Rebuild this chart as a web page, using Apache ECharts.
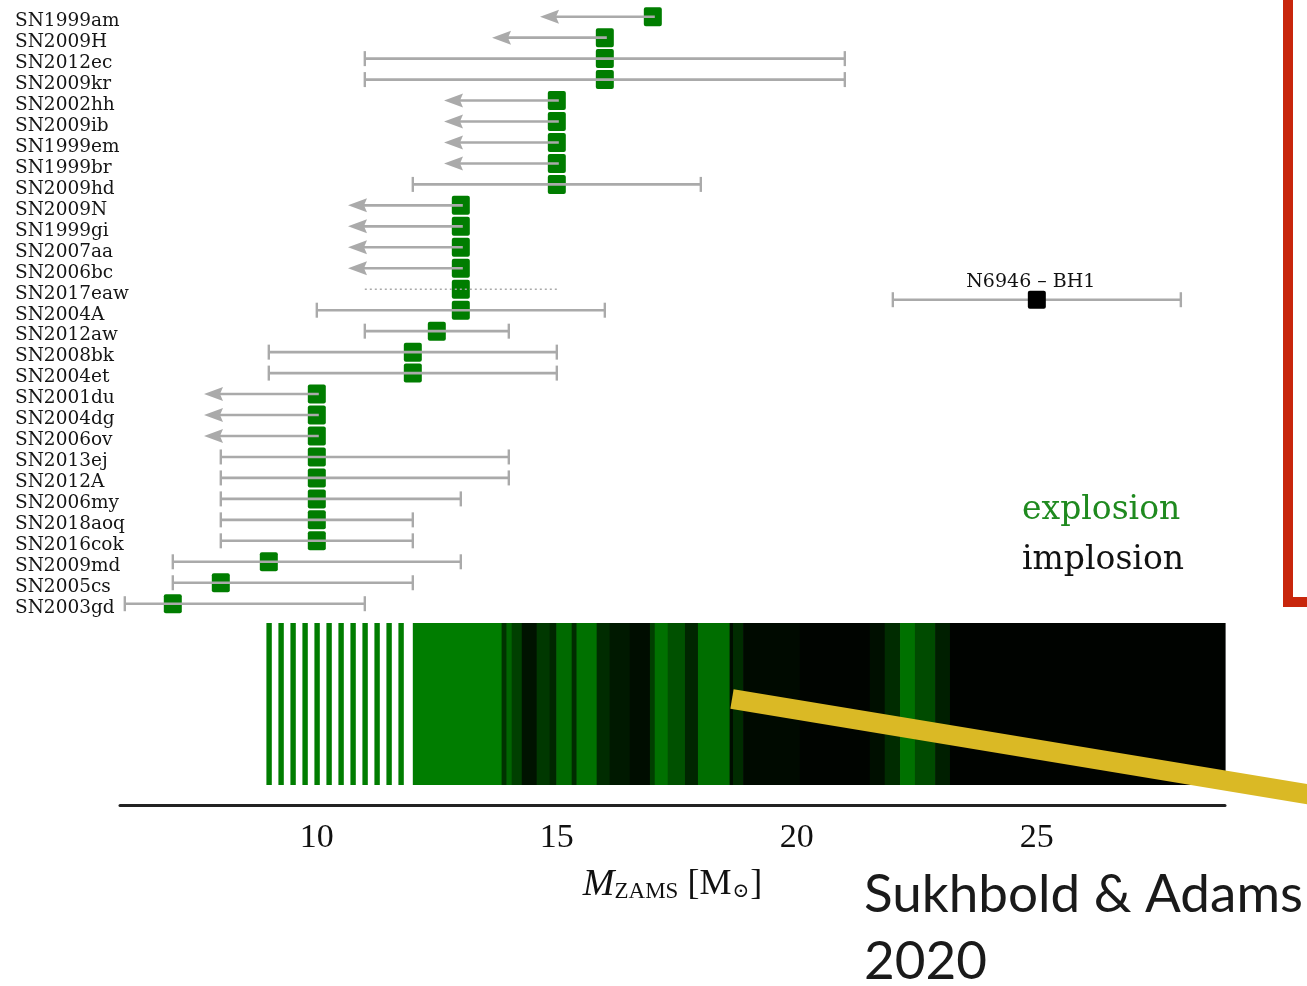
<!DOCTYPE html>
<html>
<head>
<meta charset="utf-8">
<script src="https://cdn.jsdelivr.net/npm/echarts@6/dist/echarts.min.js"></script>
<style>
  html, body { margin: 0; padding: 0; background: #ffffff; }
  #chart { width: 1307px; height: 986px; }
</style>
</head>
<body>
<div id="chart"></div>
<script>
// Type II-P supernova progenitors: inferred ZAMS masses (top to bottom)
const supernovae = [
  'SN1999am', 'SN2009H', 'SN2012ec', 'SN2009kr', 'SN2002hh', 'SN2009ib',
  'SN1999em', 'SN1999br', 'SN2009hd', 'SN2009N', 'SN1999gi', 'SN2007aa',
  'SN2006bc', 'SN2017eaw', 'SN2004A', 'SN2012aw', 'SN2008bk', 'SN2004et',
  'SN2001du', 'SN2004dg', 'SN2006ov', 'SN2013ej', 'SN2012A', 'SN2006my',
  'SN2018aoq', 'SN2016cok', 'SN2009md', 'SN2005cs', 'SN2003gd'
];
const progenitorMass = [17, 16, 16, 16, 15, 15, 15, 15, 15, 13, 13, 13, 13, 13, 13, 12.5, 12, 12,
                        10, 10, 10, 10, 10, 10, 10, 10, 9, 8, 7];
const massLow  = [null, null, 11, 11, null, null, null, null, 12, null, null, null, null, 11, 10, 11, 9, 9,
                  null, null, null, 8, 8, 8, 8, 8, 7, 7, 6];
const massHigh = [null, null, 21, 21, null, null, null, null, 18, null, null, null, null, 15, 16, 14, 15, 15,
                  null, null, null, 14, 14, 13, 12, 12, 13, 12, 11];
// 'limit' = upper limit only, 'bar' = error range, 'dotted' = loose range
const rangeKind = ['limit', 'limit', 'bar', 'bar', 'limit', 'limit', 'limit', 'limit', 'bar',
                   'limit', 'limit', 'limit', 'limit', 'dotted', 'bar', 'bar', 'bar', 'bar',
                   'limit', 'limit', 'limit', 'bar', 'bar', 'bar', 'bar', 'bar', 'bar', 'bar', 'bar'];

// Failed-supernova candidate in NGC 6946
const bhName = 'N6946 \u2013 BH1';
const bhMass = 25;
const bhLow = 22;
const bhHigh = 28;
const bhRow = 13.5;

// Explosion outcome of the model grid: isolated low-mass models (all explode)
const stripeMass = [9.0, 9.25, 9.5, 9.75, 10.0, 10.25, 10.5, 10.75, 11.0, 11.25, 11.5, 11.75];
// Dense grid from 12 Msun up, summarised as bands with the fraction of exploding models
const bandStart = [12.00, 13.85, 13.95, 14.06, 14.27, 14.58, 14.85, 14.99, 15.31, 15.41, 15.83, 16.10,
                   16.52, 16.94, 17.04, 17.31, 17.67, 17.94, 18.60, 18.67, 18.88, 20.06, 21.52, 21.83,
                   22.15, 22.46, 22.88, 23.19];
const bandEnd   = [13.85, 13.95, 14.06, 14.27, 14.58, 14.85, 14.99, 15.31, 15.41, 15.83, 16.10, 16.52,
                   16.94, 17.04, 17.31, 17.67, 17.94, 18.60, 18.67, 18.88, 20.06, 21.52, 21.83, 22.15,
                   22.46, 22.88, 23.19, 28.92];
const bandExplode = [1.0, 0.4, 0.8, 0.5, 0.15, 0.45, 0.3, 0.85, 0.35, 0.9, 0.35, 0.2,
                     0.1, 0.5, 0.9, 0.65, 0.3, 0.88, 0.1, 0.35, 0.08, 0.03, 0.12, 0.35,
                     0.9, 0.6, 0.25, 0.02];

const xTicks = [10, 15, 20, 25];

// ---- styling constants ----
const GREEN = '#007d00';
const GREY = '#aaaaaa';
const ARROW_LEN = 2.35;      // length of upper-limit arrows, in Msun
const STRIPE_WIDTH = 0.1;    // width of isolated model stripes, in Msun
const STRIP_FLOOR = 0.11;    // lower edge of the outcome strip in its own axis units
const SERIF = '"DejaVu Serif", serif';
const TIMES = '"Liberation Serif", serif';

function mixColor(f) {
  const g = Math.round(125 * f);
  return 'rgb(0,' + g + ',0)';
}

const rowIdx = supernovae.map((_, i) => i);

const boxData = progenitorMass.map((m, i) => [m, i]);
const rangeData = [];
const limitData = [];
progenitorMass.forEach((m, i) => {
  if (rangeKind[i] === 'limit') limitData.push([m, i]);
  else rangeData.push([massLow[i], massHigh[i], i, rangeKind[i] === 'dotted' ? 1 : 0]);
});

const stripData = stripeMass.map(m => [m - STRIPE_WIDTH / 2, m + STRIPE_WIDTH / 2, 1]);
bandStart.forEach((s, i) => stripData.push([s, bandEnd[i], bandExplode[i]]));

const chart = echarts.init(document.getElementById('chart'), null, { renderer: 'canvas' });

const option = {
  backgroundColor: '#ffffff',
  animation: false,
  grid: [
    { left: 120, width: 1105, top: 6.2, height: 608 },
    { left: 120, width: 1105, top: 623, height: 182 }
  ],
  xAxis: [
    { gridIndex: 0, type: 'value', min: 5.9, max: 28.92, show: false },
    {
      gridIndex: 1, type: 'value', min: 5.9, max: 28.92,
      axisLine: { show: true, lineStyle: { color: '#222', width: 3 } },
      axisTick: { show: false },
      splitLine: { show: false },
      axisLabel: {
        customValues: xTicks,
        margin: 16,
        color: '#111',
        fontFamily: TIMES,
        fontSize: 34
      },
      name: '{m|M}{s|ZAMS}{r| [M}{o|\u2299}{r|]}',
      nameLocation: 'middle',
      nameGap: 60,
      nameTextStyle: {
        rich: {
          m: { fontFamily: TIMES, fontStyle: 'italic', fontSize: 38, lineHeight: 40, color: '#111' },
          s: { fontFamily: TIMES, fontSize: 23, lineHeight: 22, verticalAlign: 'bottom', color: '#111', padding: [0, 0, 2, 0] },
          o: { fontFamily: SERIF, fontSize: 20, lineHeight: 22, verticalAlign: 'bottom', color: '#111', padding: [0, 1, 3, 1] },
          r: { fontFamily: TIMES, fontSize: 36, lineHeight: 40, color: '#111' }
        }
      }
    }
  ],
  yAxis: [
    {
      gridIndex: 0, type: 'value', inverse: true, min: -0.5, max: 28.5,
      axisLine: { show: false }, axisTick: { show: false }, splitLine: { show: false },
      axisLabel: {
        customValues: rowIdx,
        formatter: v => supernovae[Math.round(v)] || '',
        align: 'left',
        verticalAlign: 'top',
        lineHeight: 9,
        margin: 105,
        color: '#151515',
        fontFamily: SERIF,
        fontSize: 18.5
      }
    },
    { gridIndex: 1, type: 'value', min: 0, max: 1, show: false }
  ],
  series: [
    {
      // explosion / implosion outcome strip
      type: 'custom',
      xAxisIndex: 1, yAxisIndex: 1,
      data: stripData,
      z: 2,
      silent: true,
      renderItem: (params, api) => {
        const a = api.coord([api.value(0), 1]);
        const b = api.coord([api.value(1), STRIP_FLOOR]);
        return {
          type: 'rect',
          shape: { x: a[0], y: a[1], width: b[0] - a[0] + 0.6, height: b[1] - a[1] },
          style: { fill: mixColor(api.value(2)) }
        };
      }
    },
    {
      // progenitor mass estimates
      type: 'custom',
      xAxisIndex: 0, yAxisIndex: 0,
      data: boxData,
      z: 2,
      silent: true,
      renderItem: (params, api) => {
        const p = api.coord([api.value(0), api.value(1)]);
        return {
          type: 'rect',
          shape: { x: p[0] - 9, y: p[1] - 9.5, width: 18, height: 19, r: 2 },
          style: { fill: GREEN }
        };
      }
    },
    {
      // error ranges
      type: 'custom',
      xAxisIndex: 0, yAxisIndex: 0,
      data: rangeData,
      z: 3,
      silent: true,
      renderItem: (params, api) => {
        const a = api.coord([api.value(0), api.value(2)]);
        const b = api.coord([api.value(1), api.value(2)]);
        if (api.value(3) === 1) {
          return {
            type: 'line',
            shape: { x1: a[0], y1: a[1], x2: b[0], y2: b[1] },
            style: { stroke: GREY, lineWidth: 1.5, lineDash: [2, 3] }
          };
        }
        return {
          type: 'group',
          children: [
            { type: 'line', shape: { x1: a[0], y1: a[1], x2: b[0], y2: b[1] }, style: { stroke: GREY, lineWidth: 2.6 } },
            { type: 'line', shape: { x1: a[0], y1: a[1] - 7.5, x2: a[0], y2: a[1] + 7.5 }, style: { stroke: GREY, lineWidth: 2.4 } },
            { type: 'line', shape: { x1: b[0], y1: b[1] - 7.5, x2: b[0], y2: b[1] + 7.5 }, style: { stroke: GREY, lineWidth: 2.4 } }
          ]
        };
      }
    },
    {
      // upper limits
      type: 'custom',
      xAxisIndex: 0, yAxisIndex: 0,
      data: limitData,
      z: 3,
      silent: true,
      renderItem: (params, api) => {
        const p = api.coord([api.value(0), api.value(1)]);
        const t = api.coord([api.value(0) - ARROW_LEN, api.value(1)]);
        const y = p[1];
        return {
          type: 'group',
          children: [
            { type: 'line', shape: { x1: p[0] + 2, y1: y, x2: t[0] + 14, y2: y }, style: { stroke: GREY, lineWidth: 2.6 } },
            { type: 'polygon', shape: { points: [[t[0], y], [t[0] + 19, y - 7], [t[0] + 16, y], [t[0] + 19, y + 7]] }, style: { fill: GREY } }
          ]
        };
      }
    },
    {
      // black-hole candidate
      type: 'custom',
      xAxisIndex: 0, yAxisIndex: 0,
      data: [[bhMass, bhRow, bhLow, bhHigh]],
      z: 4,
      silent: true,
      renderItem: (params, api) => {
        const p = api.coord([api.value(0), api.value(1)]);
        const a = api.coord([api.value(2), api.value(1)]);
        const b = api.coord([api.value(3), api.value(1)]);
        return {
          type: 'group',
          children: [
            { type: 'line', shape: { x1: a[0], y1: a[1], x2: b[0], y2: b[1] }, style: { stroke: GREY, lineWidth: 2.6 } },
            { type: 'line', shape: { x1: a[0], y1: a[1] - 7.5, x2: a[0], y2: a[1] + 7.5 }, style: { stroke: GREY, lineWidth: 2.4 } },
            { type: 'line', shape: { x1: b[0], y1: b[1] - 7.5, x2: b[0], y2: b[1] + 7.5 }, style: { stroke: GREY, lineWidth: 2.4 } },
            { type: 'rect', shape: { x: p[0] - 9, y: p[1] - 9, width: 18, height: 18, r: 2 }, style: { fill: '#000' } },
            {
              type: 'text', x: p[0] - 6, y: p[1] - 18,
              style: { text: bhName, fill: '#111', fontFamily: SERIF, fontSize: 19, align: 'center', verticalAlign: 'middle' }
            }
          ]
        };
      }
    }
  ],
  graphic: [
    { type: 'text', left: 1022, top: 494, style: { text: 'explosion', fill: '#1f8a1f', fontFamily: SERIF, fontSize: 33 } },
    { type: 'text', left: 1022, top: 544, style: { text: 'implosion', fill: '#111', fontFamily: SERIF, fontSize: 33 } },
    { type: 'rect', shape: { x: 1283, y: 0, width: 10, height: 607 }, style: { fill: '#c8260c' }, z: 10 },
    { type: 'rect', shape: { x: 1283, y: 597, width: 24, height: 10 }, style: { fill: '#c8260c' }, z: 10 },
    { type: 'line', shape: { x1: 732, y1: 699, x2: 1330, y2: 798 }, style: { stroke: '#dab925', lineWidth: 20 }, z: 10 },
    { type: 'text', x: 864, y: 895, style: { text: 'Sukhbold & Adams', fill: '#1a1a1a', fontFamily: 'Lato, sans-serif', fontSize: 53, verticalAlign: 'middle' }, z: 10 },
    { type: 'text', x: 864, y: 962, style: { text: '2020', fill: '#1a1a1a', fontFamily: 'Lato, sans-serif', fontSize: 53, verticalAlign: 'middle' }, z: 10 }
  ]
};

chart.setOption(option);
</script>
</body>
</html>
